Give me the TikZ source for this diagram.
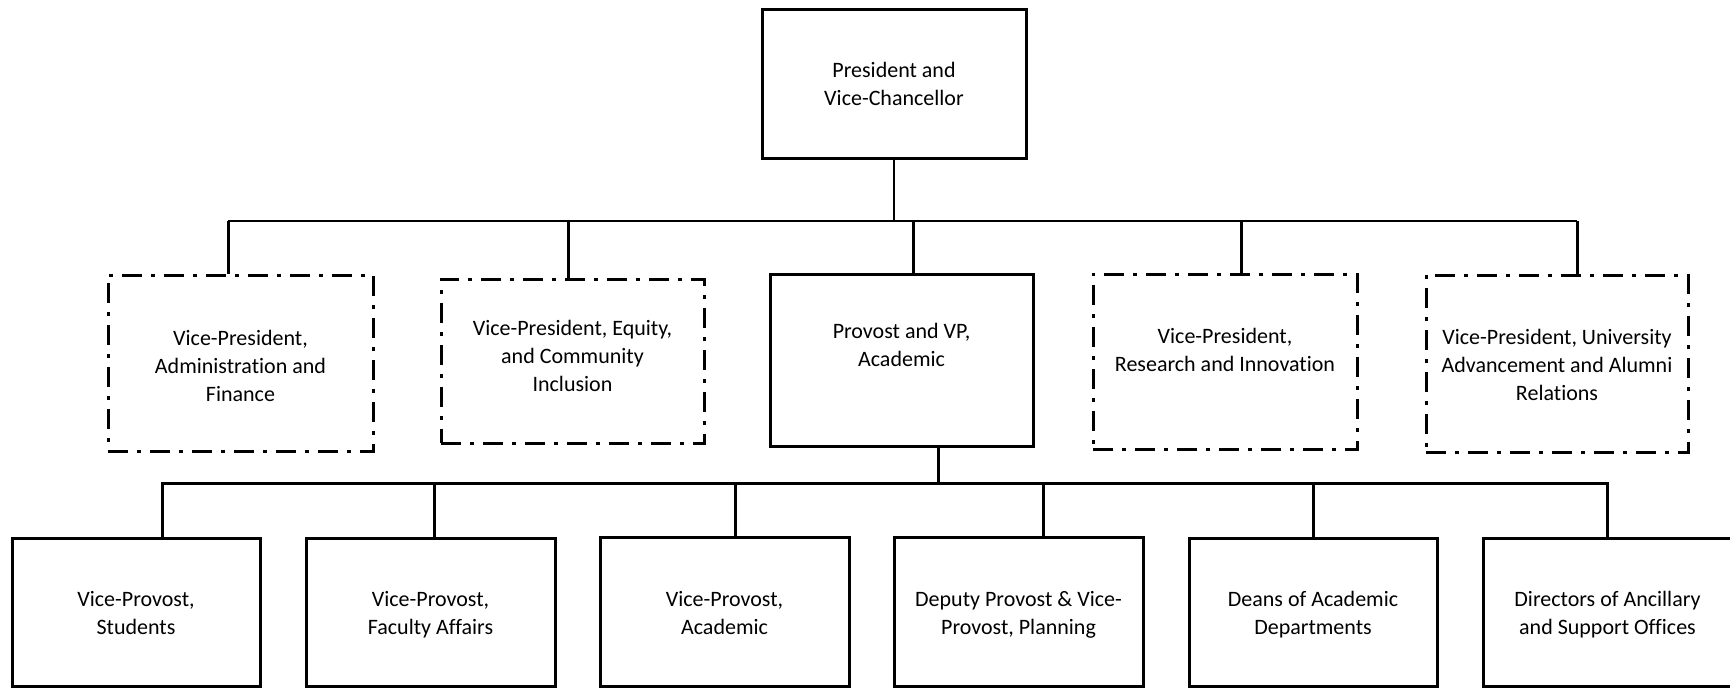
\documentclass[tikz,border=0pt]{standalone}
\usepackage{fontspec}
\setmainfont{Carlito}[Ligatures=NoCommon]

% Box given by its left, right, top and bottom edges (in px-like units)
\newcommand\orgnode[6]{% #1 style, #2 name, #3 left, #4 right, #5 top, #6 bottom
  \node[#1, minimum width={(#4-#3)*0.5pt}, minimum height={(#6-#5)*0.5pt}]
    (#2) at ({(#3+#4)/2},{(#5+#6)/2}) {};}

\begin{document}
\begin{tikzpicture}[x=0.5pt, y=-0.5pt,
  orgbox/.style={draw=black, line width=1.5pt, rectangle, inner sep=0pt, fill=white},
  dashbox/.style={orgbox, dash pattern=on 10pt off 4.5pt on 2pt off 4.5pt},
  boxtext/.style={align=center, font=\fontsize{11}{14}\selectfont, inner sep=0pt},
  thinlink/.style={draw=black, line width=1pt},
  link/.style={draw=black, line width=1.5pt},
  buslink/.style={draw=black, line width=1.5pt, line cap=rect}]
\useasboundingbox (0,0) rectangle (1730,687);

% ---- boxes ----
\orgnode{orgbox}{pres}{762}{1026}{9}{158}
\orgnode{dashbox}{admin}{108}{373}{275}{451}
\orgnode{dashbox}{equity}{441}{704}{279}{443}
\orgnode{orgbox}{prov}{770}{1033}{274}{446}
\orgnode{dashbox}{research}{1093}{1357}{274}{449}
\orgnode{dashbox}{univ}{1426}{1688}{275}{452}
\orgnode{orgbox}{students}{12}{260}{538}{686}
\orgnode{orgbox}{faculty}{306}{555}{538}{686}
\orgnode{orgbox}{academic}{600}{849}{537}{686}
\orgnode{orgbox}{planning}{894}{1143}{537}{686}
\orgnode{orgbox}{deans}{1189}{1437}{538}{686}
\orgnode{orgbox}{directors}{1483}{1732}{538}{686}

% ---- box texts ----
\node[boxtext] (pres-t) at (pres |- 0,86) {\strut President and\\Vice-Chancellor\strut};
\node[boxtext] (admin-t) at (admin |- 0,368) {\strut Vice-President,\\Administration and\\Finance\strut};
\node[boxtext] (equity-t) at (equity |- 0,357.5) {\strut Vice-President, Equity,\\and Community\\Inclusion\strut};
\node[boxtext] (prov-t) at (prov |- 0,346.5) {\strut Provost and VP,\\Academic\strut};
\node[boxtext] (research-t) at (research |- 0,351.5) {\strut Vice-President,\\Research and Innovation\strut};
\node[boxtext] (univ-t) at (univ |- 0,366.5) {\strut Vice-President, University\\Advancement and Alumni\\Relations\strut};
\node[boxtext] (students-t) at (students |- 0,615) {\strut Vice-Provost,\\Students\strut};
\node[boxtext] (faculty-t) at (faculty |- 0,615) {\strut Vice-Provost,\\Faculty Affairs\strut};
\node[boxtext] (academic-t) at (academic |- 0,615) {\strut Vice-Provost,\\Academic\strut};
\node[boxtext] (planning-t) at (planning |- 0,615) {\strut Deputy Provost \& Vice-\\Provost, Planning\strut};
\node[boxtext] (deans-t) at (deans |- 0,615) {\strut Deans of Academic\\Departments\strut};
\node[boxtext] (directors-t) at (directors |- 0,615) {\strut Directors of Ancillary\\and Support Offices\strut};

% ---- upper level connectors ----
\coordinate (upA) at (228,221);
\coordinate (upB) at (568,221);
\coordinate (upC) at (913,221);
\coordinate (upD) at (1241,221);
\coordinate (upE) at (1577,221);
\draw[thinlink] (pres.south) -- (pres.south |- upA);
\draw[thinlink] (upA) -- (upE);
\draw[link] (upA) -- (upA |- admin.north);
\draw[link] (upB) -- (upB |- equity.north);
\draw[link] (upC) -- (upC |- prov.north);
\draw[link] (upD) -- (upD |- research.north);
\draw[link] (upE) -- (upE |- univ.north);

% ---- lower level connectors ----
\coordinate (provdrop) at (938,483);
\coordinate (loA) at (162,483);
\coordinate (loB) at (434,483);
\coordinate (loC) at (735,483);
\coordinate (loD) at (1043,483);
\coordinate (loE) at (1313,483);
\coordinate (loF) at (1607,483);
\draw[link] (provdrop |- prov.south) -- (provdrop);
\draw[buslink] (loA) -- (loF);
\draw[link] (loA) -- (loA |- students.north);
\draw[link] (loB) -- (loB |- faculty.north);
\draw[link] (loC) -- (loC |- academic.north);
\draw[link] (loD) -- (loD |- planning.north);
\draw[link] (loE) -- (loE |- deans.north);
\draw[link] (loF) -- (loF |- directors.north);
\end{tikzpicture}
\end{document}
